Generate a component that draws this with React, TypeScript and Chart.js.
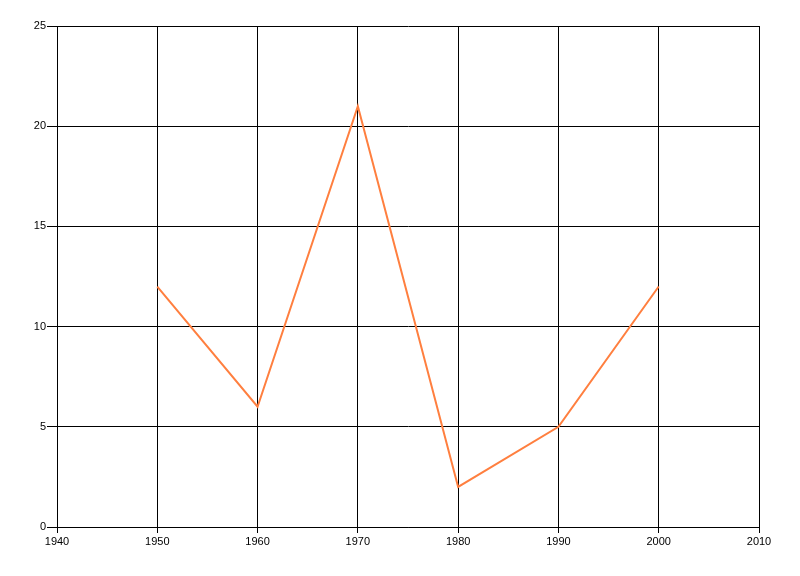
import React, { useEffect, useRef } from "react";
import { Chart, registerables } from "chart.js";

Chart.register(...registerables);

const years = [1950, 1960, 1970, 1980, 1990, 2000];
const values = [12, 6, 21, 2, 5, 12];
const xMin = 1940;
const xMax = 2010;
const xStep = 10;
const yMin = 0;
const yMax = 25;
const yStep = 5;
const lineColor = "#FF7F3F";

export default function App() {
  const ref = useRef<HTMLCanvasElement | null>(null);
  useEffect(() => {
    if (!ref.current) return;
    const font = { family: "'Liberation Sans', Arial, sans-serif", size: 11 };
    const chart = new Chart(ref.current, {
      type: "scatter",
      data: {
        datasets: [
          {
            data: years.map((y, i) => ({ x: y, y: values[i] })),
            showLine: true,
            borderColor: lineColor,
            backgroundColor: lineColor,
            borderWidth: 2,
            pointRadius: 0,
            tension: 0,
          },
        ],
      },
      options: {
        animation: false,
        responsive: false,
        maintainAspectRatio: false,
        layout: { padding: { top: 26, right: 41, left: 0, bottom: 0 } },
        plugins: { legend: { display: false }, tooltip: { enabled: false } },
        scales: {
          x: {
            type: "linear",
            min: xMin,
            max: xMax,
            ticks: { stepSize: xStep, color: "#000", font, padding: 2, maxRotation: 0, callback: (v: any) => String(v) },
            grid: { color: "#000", lineWidth: 1, tickLength: 6, drawTicks: true },
            border: { color: "#000", width: 1 },
            afterFit: (s: any) => { s.height = 49; },
          },
          y: {
            min: yMin,
            max: yMax,
            ticks: { stepSize: yStep, color: "#000", font, padding: 1 },
            grid: { color: "#000", lineWidth: 1, tickLength: 10, drawTicks: true },
            border: { color: "#000", width: 1 },
            afterFit: (s: any) => { s.width = 57; },
          },
        },
      },
    });
    return () => chart.destroy();
  }, []);
  return (
    <canvas
      ref={ref}
      width={800}
      height={576}
      style={{ position: "absolute", left: 0, top: 0, width: 800, height: 576, background: "#fff" }}
    />
  );
}
